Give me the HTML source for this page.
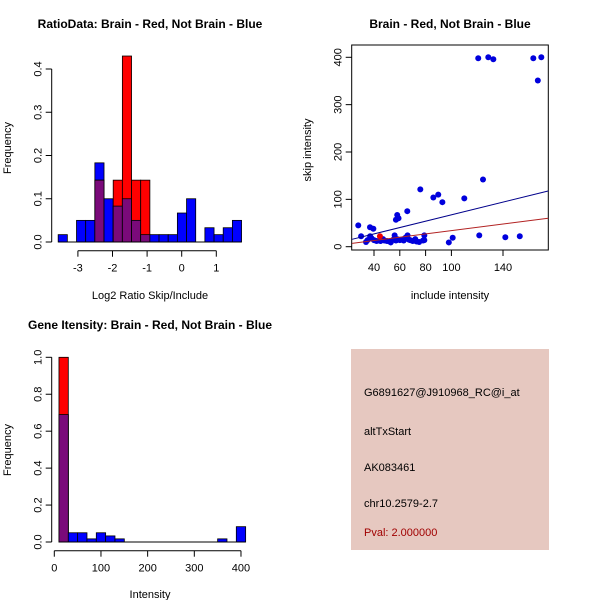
<!DOCTYPE html>
<html><head><meta charset="utf-8"><style>
body{margin:0;background:#fff}
svg{display:block;font-family:"Liberation Sans",sans-serif}
</style></head><body>
<svg id="s" width="600" height="600" xmlns="http://www.w3.org/2000/svg">
<rect width="600" height="600" fill="#fff"/>
<text x="150" y="28" text-anchor="middle" font-weight="bold" font-size="12">RatioData: Brain - Red, Not Brain - Blue</text>
<text x="450" y="28" text-anchor="middle" font-weight="bold" font-size="12">Brain - Red, Not Brain - Blue</text>
<text x="150" y="329" text-anchor="middle" font-weight="bold" font-size="12">Gene Itensity: Brain - Red, Not Brain - Blue</text>
<text x="150" y="299" text-anchor="middle" font-size="11">Log2 Ratio Skip/Include</text>
<text x="450" y="299" text-anchor="middle" font-size="11">include intensity</text>
<text x="150" y="598" text-anchor="middle" font-size="11">Intensity</text>
<text transform="translate(11,148) rotate(-90)" text-anchor="middle" font-size="11">Frequency</text>
<text transform="translate(311,150) rotate(-90)" text-anchor="middle" font-size="11">skip intensity</text>
<text transform="translate(11,450) rotate(-90)" text-anchor="middle" font-size="11">Frequency</text>
<g>
<rect x="351" y="349" width="198" height="201" fill="#e6c8c0"/>
<text x="364" y="396" font-size="11">G6891627@J910968_RC@i_at</text>
<text x="364" y="435" font-size="11">altTxStart</text>
<text x="364" y="471" font-size="11">AK083461</text>
<text x="364" y="507" font-size="11">chr10.2579-2.7</text>
<text x="364" y="536" font-size="11" fill="#a00000">Pval: 2.000000</text>
</g>
</svg>
<script>
const ratioStart=-3.57, ratioWidth=0.265;
const ratioBlue=[0.017,0,0.05,0.05,0.183,0.1,0.083,0.1,0.05,0.017,0.017,0.017,0.017,0.067,0.1,0,0.033,0.017,0.033,0.05];
const ratioRed=[0,0,0,0,0.143,0,0.143,0.43,0.143,0.143,0,0,0,0,0,0,0,0,0,0];
const ratioXTicks=[-3,-2,-1,0,1];
const ratioYTicks=["0.0","0.1","0.2","0.3","0.4"];
const intStart=10, intWidth=20;
const intBlue=[0.69,0.05,0.05,0.017,0.05,0.033,0.017,0,0,0,0,0,0,0,0,0,0,0.017,0,0.083];
const intRed=[1.0,0,0,0,0,0,0,0,0,0,0,0,0,0,0,0,0,0,0,0];
const intXTicks=[0,100,200,300,400];
const intYTicks=["0.0","0.2","0.4","0.6","0.8","1.0"];
const scBlueX=[27.8,30,33.8,36.9,39.5,35,37,38,40,42,45,47,48,50,52,53,55,56,57,58,60,62,63,64,65,66,67,68,70,72,73,75,78,79,79,58,57,59,65.8,75.9,86,89.8,93,110,98,101,120.8,128.6,132.5,121.6,124.5,141.8,153,163.5,169.7,167];
const scBlueY=[45,22,10,41,38,14,22,18,14,12,12,16,13,12,11,9,15,24,13,16,14,15,13,18,20,24,15,14,12,16,11,10,13,24,14,67,57,60,75,121,104,110,94,102,9,19,398,400,396,24,142,20,22,398,400,351];
const scRedX=[44.6];
const scRedY=[22];
const scXTicks=[40,60,80,100,140];
const scYTicks=[0,100,200,300,400];
const lineBlue=[0.16,0.671], lineRed=[-1,0.349];

const S=document.getElementById('s'),NS='http://www.w3.org/2000/svg';
function el(t,a,p){const e=document.createElementNS(NS,t);for(const k in a)e.setAttribute(k,a[k]);(p||S).appendChild(e);return e;}
function txt(x,y,s,a){const e=el('text',Object.assign({x:x,y:y,'font-size':11,'text-anchor':'middle'},a||{}));e.textContent=s;return e;}

function hist(name,start,w,blue,red,xs,ys,xt,yt,axY,base,yAxisX){
  const g=el('g',{});
  
  
  blue.forEach((b,i)=>{
    const x0=xs(start+i*w),x1=xs(start+(i+1)*w),r=red[i],m=Math.min(b,r);
    if(b>0){const e=el('rect',{x:x0,y:ys(b),width:x1-x0,height:ys(0)-ys(b),fill:'#0000ff',stroke:'#000','stroke-width':0.8},g);
      
      }
    if(r>0){const e=el('rect',{x:x0,y:ys(r),width:x1-x0,height:ys(0)-ys(r),fill:'#ff0000',stroke:'#000','stroke-width':0.8},g);
      
      }
    if(m>0){const e=el('rect',{x:x0,y:ys(m),width:x1-x0,height:ys(0)-ys(m),fill:'#7a0a7a',stroke:'#000','stroke-width':0.8},g);
      
      }
  });
  el('line',{x1:xs(start),x2:xs(start+blue.length*w),y1:base,y2:base,stroke:'#000'},g);
  el('line',{x1:xs(xt[0]),x2:xs(xt[xt.length-1]),y1:axY,y2:axY,stroke:'#000'},g);
  xt.forEach(v=>{el('line',{x1:xs(v),x2:xs(v),y1:axY,y2:axY+6,stroke:'#000'},g);txt(xs(v),axY+21,String(v));});
  el('line',{x1:yAxisX,x2:yAxisX,y1:ys(+yt[0]),y2:ys(+yt[yt.length-1]),stroke:'#000'},g);
  yt.forEach(v=>{const y=ys(+v);el('line',{x1:yAxisX,x2:yAxisX-6,y1:y,y2:y,stroke:'#000'},g);
    txt(0,0,v,{transform:`translate(${yAxisX-10},${y}) rotate(-90)`});});
}
hist('ratio-histogram',ratioStart,ratioWidth,ratioBlue,ratioRed,v=>181.7+34.6*v,v=>242-432.5*v,ratioXTicks,ratioYTicks,250.7,242,51.7);
hist('intensity-histogram',intStart,intWidth,intBlue,intRed,v=>54.3+0.4667*v,v=>542-184.7*v,intXTicks,intYTicks,550.7,542,51.7);

// scatter
const sx=v=>374+(v-40)*1.29, sy=v=>246.7-0.4735*v;
const sg=el('g',{});


el('rect',{x:351.7,y:45,width:196.6,height:205,fill:'none',stroke:'#000'},sg);
scBlueX.forEach((x,i)=>{const c=el('circle',{cx:sx(x),cy:sy(scBlueY[i]),r:3,fill:'#0000dd'},sg);
  
  });
scRedX.forEach((x,i)=>{const c=el('circle',{cx:sx(x),cy:sy(scRedY[i]),r:3,fill:'#ee0000'},sg);
  
  });
const xa=23,xb=175;
const bl=el('line',{x1:sx(xa),y1:sy(lineBlue[0]+lineBlue[1]*xa),x2:sx(xb),y2:sy(lineBlue[0]+lineBlue[1]*xb),stroke:'#00008b'},sg);


const rl=el('line',{x1:sx(xa),y1:sy(lineRed[0]+lineRed[1]*xa),x2:sx(xb),y2:sy(lineRed[0]+lineRed[1]*xb),stroke:'#b22222'},sg);


scXTicks.forEach(v=>{el('line',{x1:sx(v),x2:sx(v),y1:250,y2:256,stroke:'#000'},sg);txt(sx(v),271,String(v));});
scYTicks.forEach(v=>{el('line',{x1:351.7,x2:345.7,y1:sy(v),y2:sy(v),stroke:'#000'},sg);
  txt(0,0,String(v),{transform:`translate(341.7,${sy(v)}) rotate(-90)`});});
</script>
</body></html>
